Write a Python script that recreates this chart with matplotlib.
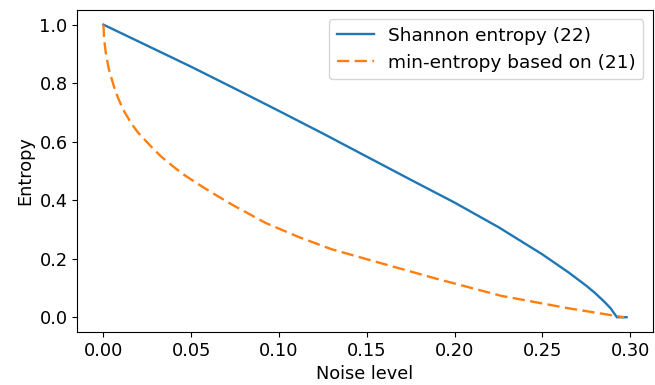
import matplotlib
matplotlib.use("Agg")
from matplotlib import pyplot as plt

plt.rcParams['font.size'] = 12.8

# Shannon entropy (22)
noise_shannon = [0, 0.025, 0.05, 0.075, 0.10, 0.125, 0.15, 0.175, 0.20,
                 0.225, 0.25, 0.265, 0.275, 0.28, 0.285, 0.289, 0.2925, 0.298]
shannon = [1.0, 0.928, 0.856, 0.781, 0.705, 0.628, 0.549, 0.47, 0.392,
           0.308, 0.215, 0.153, 0.108, 0.083, 0.055, 0.03, 0.0, 0.0]

# min-entropy based on (21)
noise_min = [0, 0.0004, 0.0013, 0.003, 0.006, 0.0083, 0.0111, 0.0159, 0.0196,
             0.0272, 0.0329, 0.0404, 0.0461, 0.0537, 0.0631, 0.0735, 0.0925,
             0.1113, 0.1302, 0.1567, 0.1889, 0.2267, 0.2645, 0.2966]
min_entropy = [1.0, 0.95, 0.905, 0.85, 0.788, 0.75, 0.711, 0.662, 0.632,
               0.583, 0.549, 0.512, 0.486, 0.456, 0.421, 0.384, 0.322,
               0.274, 0.232, 0.187, 0.133, 0.073, 0.031, 0.0]

fig, ax = plt.subplots(figsize=(6.55, 3.85), dpi=100)
ax.plot(noise_shannon, shannon, color="tab:blue", lw=1.7, label="Shannon entropy (22)")
ax.plot(noise_min, min_entropy, color="tab:orange", lw=1.7, linestyle=(0, (5.2, 2.3)),
        label="min-entropy based on (21)")
ax.set_xlabel("Noise level")
ax.set_ylabel("Entropy")
ax.legend(loc="upper right", fontsize=13.3)

fig.subplots_adjust(left=0.118, right=0.9965, top=0.974, bottom=0.138)
fig.savefig("out.png", dpi=100)
